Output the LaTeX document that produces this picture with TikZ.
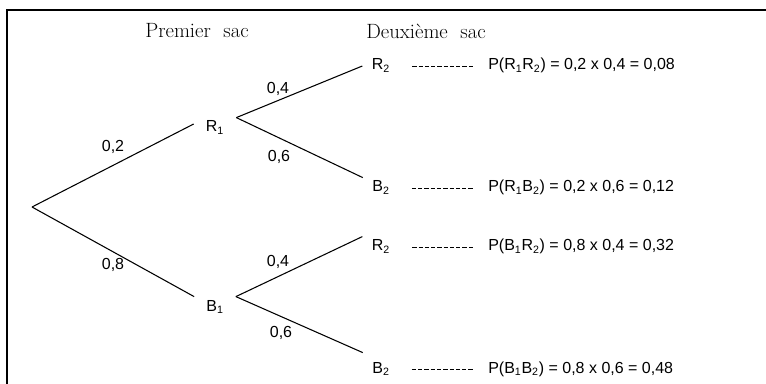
\documentclass[tikz,border=0pt]{standalone}
\usepackage{fontspec}
\setmainfont{Liberation Sans}
\newfontfamily\headfont{Latin Modern Roman}
\usetikzlibrary{positioning}

\begin{document}
\begin{tikzpicture}[x=0.75pt,y=-0.75pt,branch/.style={line width=0.8pt},guide/.style={line width=0.7pt, dash pattern=on 3.2pt off 1.5pt, shorten <=9.5pt, shorten >=11pt},frame/.style={line width=1.5pt},event/.style={font=\fontsize{12}{14}\selectfont, text height=8.6pt, text depth=2.6pt, inner xsep=7pt, inner ysep=2pt},prob/.style={font=\fontsize{12}{14}\selectfont, inner sep=0pt},result/.style={event, anchor=west, inner sep=0pt},head/.style={font=\headfont\fontsize{15.5}{17}\selectfont}]
\useasboundingbox (0,0) rectangle (766,384);
\draw[frame] (766,10) -- (7,10) -- (7,384);
\node[head] (h1) at (197,31) {Premier\ \ sac}; \node[head] (h2) at (426,31) {Deuxième\ \ sac};
\coordinate (O) at (32,207);
\node[event, inner xsep=9pt] (R1) at (215,128) {R\textsubscript{1}};
\node[event, inner xsep=9pt] (B1) at (215,307) {B\textsubscript{1}};
\node[event] (R2a) at (381,66) {R\textsubscript{2}}; \node[event] (B2a) at (381,188) {B\textsubscript{2}};
\node[event] (R2b) at (381,247) {R\textsubscript{2}}; \node[event] (B2b) at (381,369) {B\textsubscript{2}};
\draw[branch] (O) -- ([yshift=3pt]R1.west); \draw[branch] (O) -- (B1.north west);
\draw[branch] (R1.north east) -- (R2a.west); \draw[branch] (R1.north east) -- (B2a.north west);
\draw[branch] (B1.north east) -- (R2b.north west); \draw[branch] (B1.north east) -- ([yshift=4.5pt]B2b.north west);
\node[prob] (p1) at (113,147) {0,2}; \node[prob] (p2) at (113,265) {0,8};
\node[prob] (p3) at (278,89) {0,4}; \node[prob] (p4) at (279,157) {0,6};
\node[prob] (p5) at (278,262) {0,4}; \node[prob] (p6) at (281,333) {0,6};
\node[result] (Pa) at (488,66) {P(R\textsubscript{1}R\textsubscript{2}) = 0,2 x 0,4 = 0,08};
\node[result] (Pb) at (488,188) {P(R\textsubscript{1}B\textsubscript{2}) = 0,2 x 0,6 = 0,12};
\node[result] (Pc) at (488,247) {P(B\textsubscript{1}R\textsubscript{2}) = 0,8 x 0,4 = 0,32};
\node[result] (Pd) at (488,369) {P(B\textsubscript{1}B\textsubscript{2}) = 0,8 x 0,6 = 0,48};
\draw[guide] (R2a) -- (Pa); \draw[guide] (B2a) -- (Pb); \draw[guide] (R2b) -- (Pc); \draw[guide] (B2b) -- (Pd);
\end{tikzpicture}
\end{document}
